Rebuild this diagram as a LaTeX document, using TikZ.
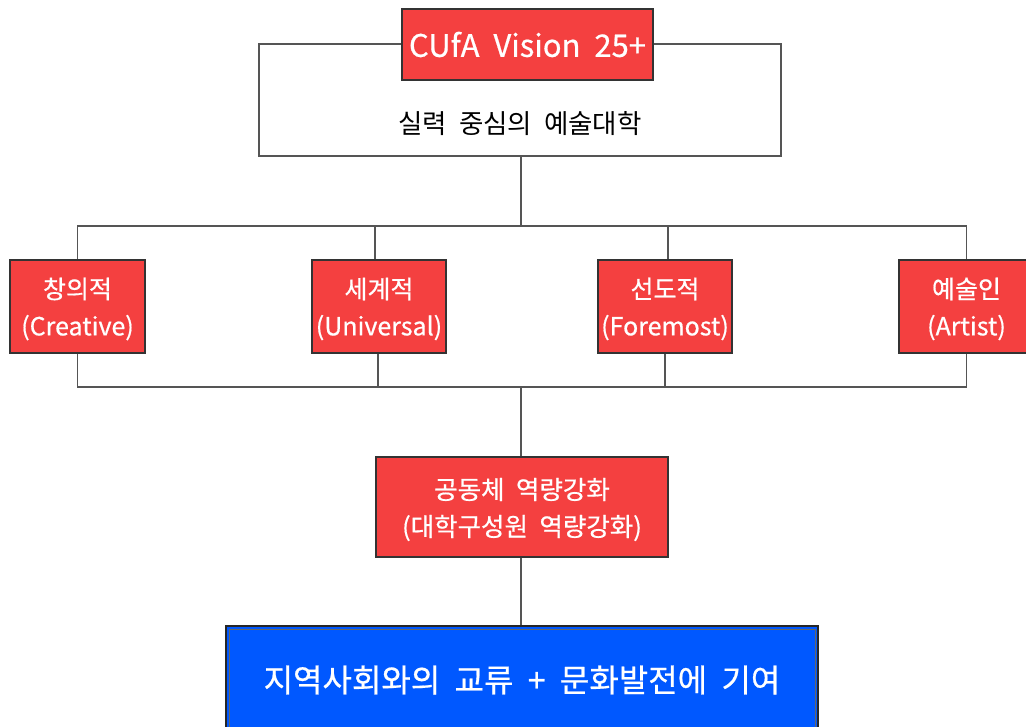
\documentclass[tikz,border=0pt]{standalone}
\usepackage{fontspec}
\setmainfont{Noto Sans CJK KR}
\newfontfamily\redfont[FakeBold=0.6]{Noto Sans CJK KR}
\definecolor{redbox}{HTML}{F44040}
\definecolor{bluebox}{HTML}{0058FF}
\definecolor{lin}{HTML}{555555}
\begin{document}
\begin{tikzpicture}[x=1pt,y=-1pt,
  redstyle/.style={draw=black!80, line width=1.2pt, fill=redbox, text=white, inner sep=0pt, align=center, font=\redfont\fontsize{25}{37}\selectfont},
  valuebox/.style={redstyle, minimum height=93pt, text depth=0pt},
  conn/.style={draw=lin, line width=1.3pt}]
\useasboundingbox (0,0) rectangle (1026,726);
\clip (0,0) rectangle (1026,726);
% white vision box
\node[draw=lin, line width=1.3pt, fill=white, minimum width=522pt, minimum height=112pt, inner sep=0pt] (vis) at (520,100) {};
\node[font=\fontsize{26.5}{30}\selectfont] (slogan) at (520,124) {실력\ \ 중심의\ \ 예술대학};
\node[redstyle, minimum width=251pt, minimum height=71pt, font=\redfont\fontsize{31}{34}\selectfont] (title) at (527.5,44.5) {CUfA\ \ Vision\ \ 25+};
% four value boxes
\node[valuebox, minimum width=135pt] (c1) at (77.5,306.5) {창의적\\(Creative)};
\node[valuebox, minimum width=134pt] (c2) at (379,306.5) {세계적\\(Universal)};
\node[valuebox, minimum width=134pt] (c3) at (665,306.5) {선도적\\(Foremost)};
\node[valuebox, minimum width=135pt] (c4) at (966.5,306.5) {예술인\\(Artist)};
% community box
\node[redstyle, minimum width=292pt, minimum height=100pt, text depth=0pt, font=\redfont\fontsize{25.5}{37}\selectfont] (comm) at (522,507) {공동체\ \ 역량강화\\(대학구성원\ \ 역량강화)};
% blue box
\node[draw=black!85, line width=1.3pt, fill=bluebox, minimum width=592pt, minimum height=108pt, inner sep=0pt] (goalouter) at (522,680) {};
\node[draw=black!60, line width=1pt, minimum width=586pt, minimum height=102pt, inner sep=0pt, text=white, font=\redfont\fontsize{32}{38}\selectfont] (goal) at (522,680) {지역사회와의\ \ 교류\ \ +\ \ 문화발전에\ \ 기여};
% connectors
\coordinate (hub1) at (521,226);
\coordinate (hub2) at (521,387);
\draw[conn] (vis.south -| hub1) -- (hub1);
\draw[conn] (c1.north) -- (c1.north |- hub1) -- (c4.north |- hub1) -- (c4.north);
\draw[conn] ([xshift=-4pt]c2.north) -- ([xshift=-4pt]c2.north |- hub1);
\draw[conn] ([xshift=3pt]c3.north) -- ([xshift=3pt]c3.north |- hub1);
\draw[conn] (c1.south) -- (c1.south |- hub2) -- (c4.south |- hub2) -- (c4.south);
\draw[conn] ([xshift=-1pt]c2.south) -- ([xshift=-1pt]c2.south |- hub2);
\draw[conn] (c3.south) -- (c3.south |- hub2);
\draw[conn] (hub2) -- (comm.north -| hub2);
\draw[conn] (comm.south -| hub2) -- (goalouter.north -| hub2);
\end{tikzpicture}
\end{document}
